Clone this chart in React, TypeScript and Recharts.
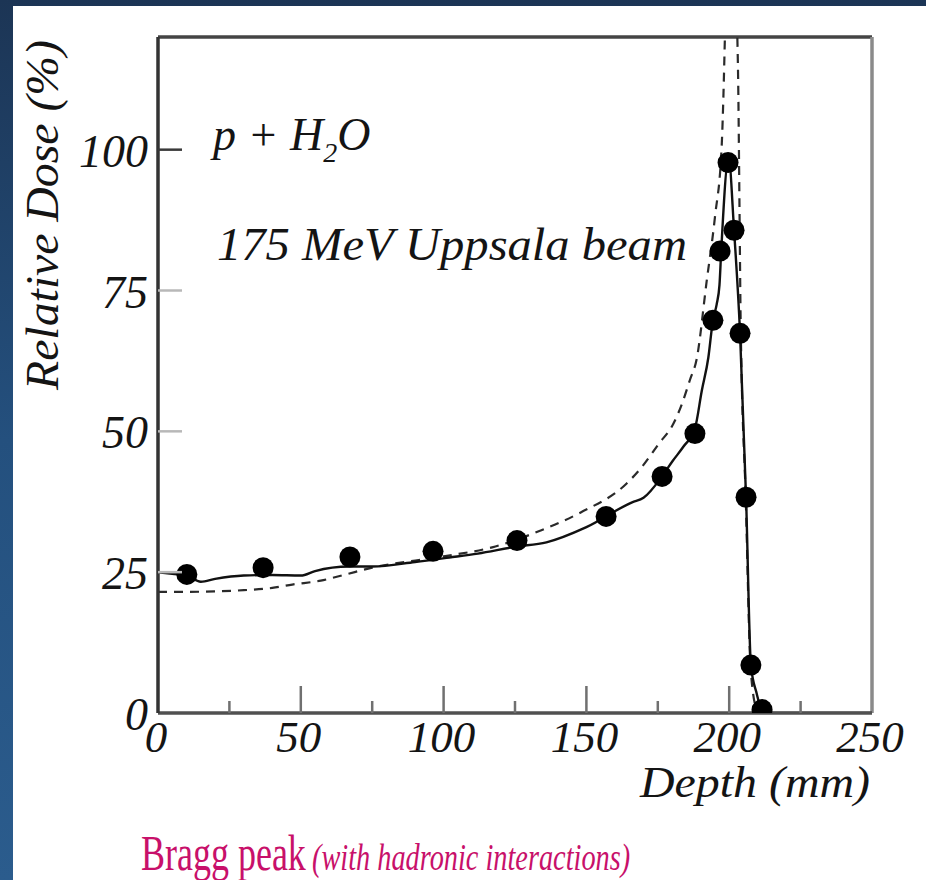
import React from 'react';
import {
  ComposedChart,
  Line,
  Scatter,
  XAxis,
  YAxis,
  ReferenceLine,
  Customized,
} from 'recharts';

// measured points (Uppsala 175 MeV beam)
const measuredDepth = [10.1, 36.8, 67.2, 96.3, 125.7, 156.9, 176.5, 188.0, 194.3, 196.8, 199.6, 201.7, 203.8, 205.9, 207.6, 211.5];
const measuredDose = [24.6, 25.8, 27.7, 28.7, 30.6, 34.9, 42.0, 49.6, 69.7, 82.0, 97.7, 85.7, 67.4, 38.3, 8.5, 0.6];

// calculation, solid curve
const solidDepth = [0, 5, 10, 15, 20, 30, 40, 50, 55, 67, 75, 90, 102, 112, 125, 136, 150, 166, 170, 176.5, 180, 184, 188.0, 190.4, 192.7, 194.3, 195.6, 196.6, 197.2, 199.8, 201.7, 203.8, 205.9, 207.6, 209.6, 211.5, 215, 250];
const solidDose = [25.0, 24.7, 24.4, 23.3, 23.8, 24.4, 24.5, 24.4, 25.2, 26.0, 26.0, 26.8, 27.6, 28.3, 29.5, 30.3, 33.0, 37.4, 38.2, 42.0, 44.6, 47.3, 50.5, 57.2, 63.1, 69.7, 72.5, 76.0, 82.0, 98.5, 85.7, 67.4, 38.3, 8.5, 3.5, 0.5, 0, 0];

// calculation, dashed curve
const dashedDepth = [0, 10, 20, 30, 40, 47, 57, 65, 75, 100, 117, 134, 148, 164, 169.3, 175.2, 180.4, 183.4, 186.3, 188.6, 192.1, 195.0, 197.4, 198.0, 198.5, 200.6, 202.6, 203.2, 203.6, 204.0, 205.8, 207.5, 209.5, 212, 250];
const dashedDose = [21.5, 21.5, 21.6, 21.8, 22.2, 22.8, 23.5, 24.5, 25.8, 27.8, 29.4, 32.4, 35.6, 40.7, 43.6, 47.7, 51.3, 54.8, 59.2, 62.8, 76.6, 88.0, 101, 110, 120, 150, 125, 110, 90, 70, 38, 8, 1, 0, 0];

const depthTicks = [0, 25, 50, 75, 100, 125, 150, 175, 200, 225, 250];
const doseTicks = [0, 25, 50, 75, 100];

const measured = measuredDepth.map((d, i) => ({ depth: d, dose: measuredDose[i] }));
const solid = solidDepth.map((d, i) => ({ depth: d, dose: solidDose[i] }));
const dashed = dashedDepth.map((d, i) => ({ depth: d, dose: dashedDose[i] }));

const SERIF = "'Liberation Serif', 'Times New Roman', serif";
const TICK_MARGIN = 10;
const INK = '#141414';
const CAPTION = '#c8106a';

const XTick = ({ x, y, payload }: any) => {
  const v = payload.value;
  const axisY = y - TICK_MARGIN;
  const major = v % 50 === 0;
  return (
    <g>
      {v > 0 && v < 250 && (
        <line x1={x} x2={x} y1={axisY} y2={axisY - (major ? 27 : 12)} stroke="#707070" strokeWidth={2.5} />
      )}
      {major && (
        <text x={x - 2} y={y + 29} textAnchor="middle" fontFamily={SERIF} fontStyle="italic" fontSize={45} fill={INK}>
          {v}
        </text>
      )}
    </g>
  );
};

const YTick = ({ x, y, payload }: any) => {
  const v = payload.value;
  const axisX = x + TICK_MARGIN;
  return (
    <g>
      {v > 0 && (
        <line x1={axisX} x2={axisX + 24} y1={y} y2={y} stroke={v === 100 ? '#3a3a3a' : '#b8b8b8'} strokeWidth={2.5} />
      )}
      <text x={x} y={y + 17} textAnchor="end" fontFamily={SERIF} fontStyle="italic" fontSize={46} fill={INK}>
        {v}
      </text>
    </g>
  );
};

const Dot = ({ cx, cy }: any) => <circle cx={cx} cy={cy} r={10.5} fill="#000" />;

const Annotations = () => (
  <g fontFamily={SERIF}>
    <text x={213} y={150} fontStyle="italic" fontSize={46} fill={INK}>
      p + H
      <tspan fontSize={28} dy={12}>2</tspan>
      <tspan dy={-12}>O</tspan>
    </text>
    <text x={217} y={260} fontStyle="italic" fontSize={46} fill={INK} textLength={470} lengthAdjust="spacingAndGlyphs">
      175 MeV Uppsala beam
    </text>
    <text x={640} y={797} fontStyle="italic" fontSize={44} fill={INK} textLength={230} lengthAdjust="spacingAndGlyphs">
      Depth (mm)
    </text>
    <text
      x={58}
      y={215}
      transform="rotate(-90 58 215)"
      textAnchor="middle"
      fontStyle="italic"
      fontSize={46}
      fill={INK}
      textLength={350}
      lengthAdjust="spacingAndGlyphs"
    >
      Relative Dose (%)
    </text>
    <text transform="translate(141 870) scale(0.72 1)" fontSize={50} fill={CAPTION}>
      Bragg peak
    </text>
    <text transform="translate(312 870) scale(0.745 1)" fontStyle="italic" fontSize={38} fill={CAPTION}>
      (with hadronic interactions)
    </text>
  </g>
);

export default function App() {
  return (
    <div
      style={{
        position: 'absolute',
        left: 0,
        top: 0,
        width: 926,
        height: 880,
        background: 'linear-gradient(180deg, #1c3555 0%, #24507e 50%, #2b5c8d 100%)',
        overflow: 'hidden',
      }}
    >
      <div style={{ position: 'absolute', left: 13, top: 6, right: 0, bottom: 0, background: '#fff' }} />
      <div style={{ position: 'absolute', left: 0, top: 0 }}>
        <ComposedChart width={926} height={880} margin={{ top: 37, right: 54, bottom: 107, left: 58 }}>
          <XAxis
            dataKey="depth"
            type="number"
            domain={[0, 250]}
            ticks={depthTicks}
            interval={0}
            height={60}
            tickSize={0}
            tickMargin={TICK_MARGIN}
            tick={<XTick />}
            axisLine={{ stroke: '#505050', strokeWidth: 3.5 }}
            allowDataOverflow
          />
          <YAxis
            type="number"
            domain={[0, 120]}
            ticks={doseTicks}
            interval={0}
            width={100}
            tickSize={0}
            tickMargin={TICK_MARGIN}
            tick={<YTick />}
            axisLine={{ stroke: '#333', strokeWidth: 3.5 }}
            allowDataOverflow
          />
          <ReferenceLine y={120} stroke="#444" strokeWidth={3.5} />
          <ReferenceLine x={250} stroke="#8a8a8a" strokeWidth={3.5} />
          <Line
            data={dashed}
            dataKey="dose"
            type="monotone"
            stroke="#2a2a2a"
            strokeWidth={2.2}
            strokeDasharray="9 7"
            dot={false}
            activeDot={false}
            isAnimationActive={false}
          />
          <Line
            data={solid}
            dataKey="dose"
            type="monotone"
            stroke="#111"
            strokeWidth={2.4}
            dot={false}
            activeDot={false}
            isAnimationActive={false}
          />
          <Scatter data={measured} dataKey="dose" shape={<Dot />} isAnimationActive={false} />
          <Customized component={<Annotations />} />
        </ComposedChart>
      </div>
    </div>
  );
}
